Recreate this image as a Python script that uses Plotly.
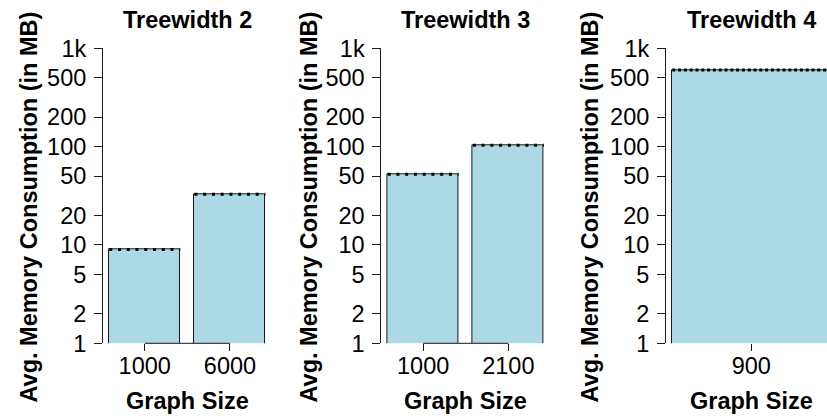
import plotly.graph_objects as go

# ---- data ----
panel_titles = ["Treewidth 2", "Treewidth 3", "Treewidth 4"]
graph_sizes = [["1000", "6000"], ["1000", "2100"], ["900"]]
memory_mb = [[9.0, 32.8], [52.5, 103.0], [600.0]]
y_tickvals = [1, 2, 5, 10, 20, 50, 100, 200, 500, 1000]
y_ticktext = ["1", "2", "5", "10", "20", "50", "100", "200", "500", "1k"]
x_title = "Graph Size"
y_title = "Avg. Memory Consumption (in MB)"

# ---- layout constants (pixels) ----
W, H = 827, 416
plot_top, plot_bot = 48.3, 343.3
axis_left_px = [103.0, 381.4, 666.0]
px_per_unit = [71.0, 71.0, 158.0]
ytitle_x_px = [28.5, 308.5, 589.5]
bar_w, bar_space = 1.0, 0.2

FONT = "Liberation Sans, Arial, Helvetica, sans-serif"
BAR_FILL = "#ADD8E6"
LINE = "#1a1a1a"
dot_dash = ["3px,5.75px", "3px,5.75px", "3px,2.8px"]
TICK_SIZE = 23.5
LABEL_SIZE = 23.5

fig = go.Figure()
ydom = [(H - plot_bot) / H, (H - plot_top) / H]

for i, (cats, vals) in enumerate(zip(graph_sizes, memory_mb)):
    n = len(cats)
    xa = "x" if i == 0 else f"x{i+1}"
    ya = "y" if i == 0 else f"y{i+1}"
    centers = [bar_space + bar_w / 2 + k * (bar_w + bar_space) for k in range(n)]
    lo = bar_space
    hi = n * (bar_w + bar_space)
    ext = 0.04 * (hi - lo)
    r0, r1 = lo - ext, hi + ext
    left = axis_left_px[i]
    right = left + (r1 - r0) * px_per_unit[i]
    if right > W:
        r1 = r0 + (W - left) / px_per_unit[i]
        right = W
    fig.add_trace(go.Bar(
        x=centers, y=vals, width=bar_w,
        marker=dict(color=BAR_FILL, line=dict(color=LINE, width=1)),
        xaxis=xa, yaxis=ya, showlegend=False, hoverinfo="skip"))
    for c, v in zip(centers, vals):
        fig.add_trace(go.Scatter(
            x=[c - bar_w / 2, c + bar_w / 2], y=[v, v], mode="lines",
            line=dict(color="black", width=3, dash=dot_dash[i]),
            xaxis=xa, yaxis=ya, showlegend=False, hoverinfo="skip"))
    if n > 1:
        fig.add_shape(type="line", xref=xa, yref="paper",
                      x0=centers[0], x1=centers[-1], y0=ydom[0], y1=ydom[0],
                      line=dict(color=LINE, width=1))
    xkey = "xaxis" if i == 0 else f"xaxis{i+1}"
    ykey = "yaxis" if i == 0 else f"yaxis{i+1}"
    fig.update_layout(**{
        xkey: dict(domain=[left / W, right / W], range=[r0, r1], anchor=ya,
                   tickvals=centers, ticktext=cats, ticks="outside", ticklen=7,
                   tickcolor=LINE, showline=False, showgrid=False, zeroline=False,
                   automargin=False, ticklabelstandoff=-6,
                   tickfont=dict(family=FONT, size=TICK_SIZE, color="black")),
        ykey: dict(domain=ydom, type="log", range=[0, 3], anchor=xa,
                   tickvals=y_tickvals, ticktext=y_ticktext, ticks="outside",
                   ticklen=8, tickcolor=LINE, showline=True, linecolor=LINE,
                   linewidth=1, showgrid=False, zeroline=False, automargin=False,
                   ticklabelstandoff=3,
                   tickfont=dict(family=FONT, size=TICK_SIZE, color="black")),
    })
    full_right = left + (hi + ext - r0) * px_per_unit[i]
    cx = (left + full_right) / 2
    fig.add_annotation(text=f"<b>{panel_titles[i]}</b>", xref="paper", yref="paper",
                       x=cx / W, y=(H - 20.5) / H, showarrow=False,
                       xanchor="center", yanchor="middle",
                       font=dict(family=FONT, size=LABEL_SIZE, color="black"))
    fig.add_annotation(text=f"<b>{x_title}</b>", xref="paper", yref="paper",
                       x=cx / W, y=(H - 400.5) / H, showarrow=False,
                       xanchor="center", yanchor="middle",
                       font=dict(family=FONT, size=LABEL_SIZE, color="black"))
    fig.add_annotation(text=f"<b>{y_title}</b>", xref="paper", yref="paper",
                       x=ytitle_x_px[i] / W, y=(H - 207) / H, showarrow=False,
                       xanchor="center", yanchor="middle", textangle=-90,
                       font=dict(family=FONT, size=LABEL_SIZE, color="black"))

fig.update_layout(width=W, height=H, margin=dict(l=0, r=0, t=0, b=0),
                  paper_bgcolor="white", plot_bgcolor="white", bargap=0)
fig.write_html("out.html")
